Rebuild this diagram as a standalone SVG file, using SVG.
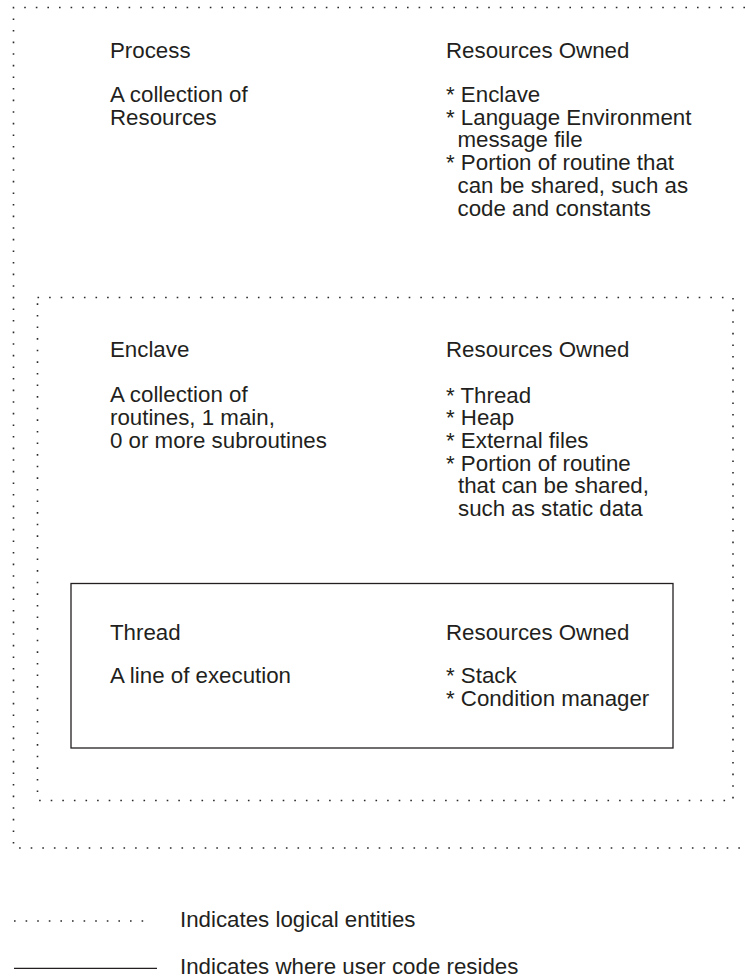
<svg xmlns="http://www.w3.org/2000/svg" width="745" height="979" viewBox="0 0 745 979">
<style>
text{font-family:"Liberation Sans",Arial,sans-serif;font-size:22.3px;fill:#231f20}
.dot{fill:none;stroke:#2a2a2a;stroke-width:1.6;stroke-dasharray:1.6 10}
.solid{fill:none;stroke:#231f20;stroke-width:1.3}
</style>
<rect width="745" height="979" fill="#fff"/>
<g id="process">
<path class="dot" d="M745 7.5 H13.5 V848 H745"/>
<text x="110" y="58">Process</text>
<text x="110" y="101.7">A collection of</text>
<text x="110" y="125">Resources</text>
<text x="446" y="58">Resources Owned</text>
<text x="446" y="101.7">* Enclave</text>
<text x="446" y="124.5">* Language Environment</text>
<text x="457.5" y="147.3">message file</text>
<text x="446" y="170">* Portion of routine that</text>
<text x="457.5" y="193">can be shared, such as</text>
<text x="457.5" y="215.7">code and constants</text>
</g>
<g id="enclave">
<rect class="dot" x="37.5" y="297.5" width="695.5" height="503"/>
<text x="110" y="357">Enclave</text>
<text x="110" y="401.7">A collection of</text>
<text x="110" y="425">routines, 1 main,</text>
<text x="110" y="448.3">0 or more subroutines</text>
<text x="446" y="357">Resources Owned</text>
<text x="446" y="402.5">* Thread</text>
<text x="446" y="425.3">* Heap</text>
<text x="446" y="448.3">* External files</text>
<text x="446" y="470.5">* Portion of routine</text>
<text x="458" y="493.3">that can be shared,</text>
<text x="458" y="515.5">such as static data</text>
</g>
<g id="thread">
<rect class="solid" x="71" y="583.5" width="602" height="164.5"/>
<text x="110" y="640">Thread</text>
<text x="110" y="683">A line of execution</text>
<text x="446" y="640">Resources Owned</text>
<text x="446" y="683">* Stack</text>
<text x="446" y="706">* Condition manager</text>
</g>
<g id="legend">
<line class="dot" x1="14" y1="921" x2="153" y2="921"/>
<text x="180" y="927">Indicates logical entities</text>
<line class="solid" x1="14" y1="968.3" x2="157" y2="968.3" stroke-width="1.6"/>
<text x="180" y="974">Indicates where user code resides</text>
</g>
</svg>
